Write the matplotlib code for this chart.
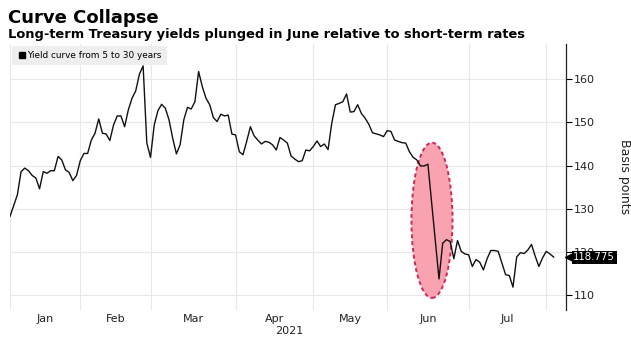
import numpy as np
import matplotlib.pyplot as plt
import matplotlib.transforms as mtransforms
from matplotlib.patches import Ellipse
from matplotlib.lines import Line2D

# trading day number (0 = first trading day of 2021) and 5s30s curve in basis points
day = [0, 2, 3, 4, 5, 6, 7, 8, 9, 10, 11, 12, 13, 14, 15, 16, 17, 18,
       19, 20, 21, 22, 23, 24, 25, 26, 27, 28, 29, 30, 31, 32, 33, 34, 35, 36,
       37, 38, 39, 40, 41, 42, 43, 44, 45, 46, 47, 48, 49, 50, 51, 52, 53, 54,
       55, 56, 57, 58, 59, 60, 61, 62, 63, 64, 65, 66, 67, 68, 69, 70, 71, 72,
       73, 74, 75, 76, 77, 78, 79, 80, 81, 82, 83, 84, 85, 86, 87, 88, 89, 90,
       91, 92, 93, 94, 95, 96, 97, 98, 100, 101, 102, 103, 104, 106, 107, 108,
       109, 110, 111, 112, 113, 116, 117, 118, 119, 120, 121, 122, 123, 124,
       125, 126, 127, 128, 129, 130, 131, 132, 133, 134, 135, 136, 137, 138,
       139, 140, 141, 142, 143, 144, 145, 146, 147]
bp = [128.2, 133.2, 138.6, 139.4, 138.8, 137.7, 137.1, 134.6, 138.6, 138.2, 138.8, 138.8, 142.1, 141.3, 139.0, 138.4, 136.5, 137.7,
      141.1, 142.8, 142.8, 145.9, 147.5, 150.8, 147.5, 147.3, 145.8, 149.4, 151.5, 151.5, 149.0, 152.9, 155.6, 157.3, 161.2, 163.1,
      145.2, 141.9, 149.4, 152.7, 154.2, 153.3, 150.6, 146.3, 142.7, 144.8, 150.6, 153.5, 153.1, 154.8, 161.8, 158.3, 155.6, 154.1,
      151.1, 150.2, 151.9, 151.5, 151.7, 147.3, 147.1, 143.2, 142.5, 145.6, 149.0, 146.9, 145.9, 145.0, 145.6, 145.4, 144.8, 143.6,
      146.5, 145.9, 145.2, 142.2, 141.5, 140.9, 141.1, 143.6, 143.4, 144.4, 145.7, 144.4, 145.0, 143.7, 149.8, 154.1, 154.4, 154.8,
      156.6, 152.4, 152.5, 154.1, 152.1, 151.0, 149.6, 147.6, 147.1, 146.7, 148.1, 147.9, 145.9, 145.3, 145.2, 143.2,
      141.9, 141.3, 139.9, 139.9, 140.3, 113.7, 122.0, 122.8, 122.4, 118.4, 122.6, 120.1, 119.5, 119.3,
      116.6, 118.2, 117.6, 115.8, 118.4, 120.3, 120.3, 120.1, 117.4, 114.7, 114.5, 111.8, 118.8, 119.8,
      119.6, 120.4, 121.7, 119.0, 116.6, 118.6, 120.1, 119.5, 118.775]

# first trading day of each month, Jan..Aug
month_starts = [0, 19, 38, 61, 82, 102, 124, 145]
month_names = ['Jan', 'Feb', 'Mar', 'Apr', 'May', 'Jun', 'Jul']
y_ticks = [110, 120, 130, 140, 150, 160]
last_value = 118.775

fig = plt.figure(figsize=(6.31, 3.39), dpi=100)
ax = fig.add_axes([0.0158, 0.0855, 0.881, 0.785])

# highlight the June drop
ax.add_patch(Ellipse((114.1, 127.3), 11.1, 36.0, facecolor='#f9a3b0',
                     edgecolor='#cc2a55', linestyle=(0, (2, 1.5)), lw=1.4, zorder=2))

ax.plot(day, bp, color='#111111', lw=1.0, zorder=3)

ax.set_xlim(0, 150.3)
ax.set_ylim(106.5, 168.2)

# month labels in the middle of each month, grid at month starts
mids = [(month_starts[i] + month_starts[i + 1]) / 2 for i in range(len(month_names))]
ax.set_xticks(mids)
ax.set_xticklabels(month_names, fontsize=8, color='#222222')
ax.set_xticks(month_starts, minor=True)
ax.tick_params(axis='x', which='both', length=0, pad=3)
ax.grid(True, axis='x', which='minor', color='#e8e8e8', lw=0.8, zorder=0)
ax.text(75.5, -0.077, '2021', transform=mtransforms.blended_transform_factory(ax.transData, ax.transAxes),
        fontsize=8, color='#222222', ha='center', va='center')

ax.yaxis.tick_right()
ax.set_yticks(y_ticks)
ax.tick_params(axis='y', length=4, width=0.8, pad=2, labelsize=8, labelcolor='#222222')
ax.grid(True, axis='y', which='major', color='#e8e8e8', lw=0.8, zorder=0)
ax.yaxis.set_label_position('right')
ax.set_ylabel('Basis points', rotation=270, fontsize=9, labelpad=26, color='#222222')

for s in ['top', 'left', 'bottom']:
    ax.spines[s].set_visible(False)
ax.spines['right'].set_color('#222222')
ax.spines['right'].set_linewidth(0.9)

# last value tag
tr = mtransforms.blended_transform_factory(ax.transAxes, ax.transData)
ax.plot([1.006], [last_value], marker='<', ms=6, color='black', transform=tr, clip_on=False, zorder=10)
ax.text(1.013, last_value, '118.775', transform=tr, color='white', fontsize=7.3, va='center', ha='left',
        bbox=dict(boxstyle='square,pad=0.15', facecolor='black', edgecolor='none'), zorder=10)

# legend
h = Line2D([], [], marker='s', color='black', linestyle='none', markersize=4.5)
leg = ax.legend([h], ['Yield curve from 5 to 30 years'], loc='upper left', fontsize=6.4,
                frameon=True, borderaxespad=0.2, handletextpad=0.1, borderpad=0.6,
                handlelength=1.0, fancybox=False)
leg.get_frame().set_facecolor('#eeeeee')
leg.get_frame().set_edgecolor('none')
leg.get_frame().set_alpha(1)

fig.text(0.013, 0.948, 'Curve Collapse', fontsize=13, fontweight='bold', va='center', ha='left')
fig.text(0.013, 0.898, 'Long-term Treasury yields plunged in June relative to short-term rates',
         fontsize=9.4, fontweight='bold', va='center', ha='left')

fig.savefig('out.png', dpi=100)
